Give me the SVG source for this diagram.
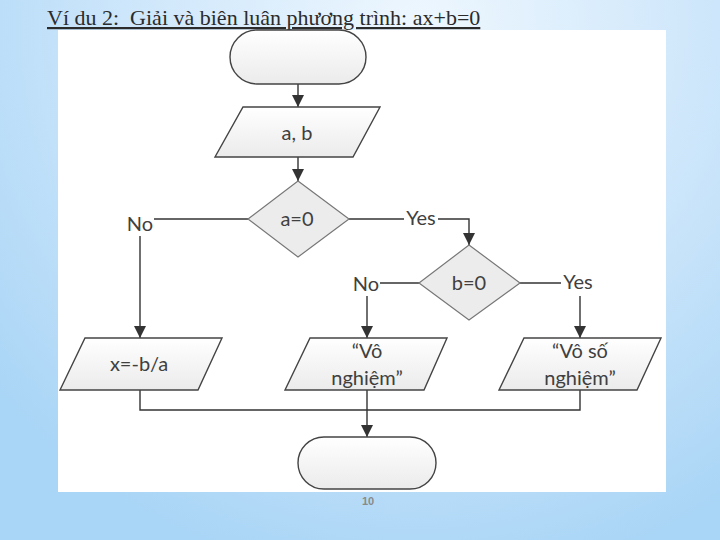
<svg xmlns="http://www.w3.org/2000/svg" width="720" height="540" viewBox="0 0 720 540">
  <defs>
    <radialGradient id="bg" cx="420" cy="30" r="560" gradientUnits="userSpaceOnUse">
      <stop offset="0" stop-color="#eef7fe"/>
      <stop offset="0.5" stop-color="#cfe7fb"/>
      <stop offset="1" stop-color="#a9d5f6"/>
    </radialGradient>
    <linearGradient id="shade" x1="0" y1="0" x2="0" y2="1">
      <stop offset="0" stop-color="#ffffff"/>
      <stop offset="1" stop-color="#ebebeb"/>
    </linearGradient>
    <marker id="arr" markerUnits="userSpaceOnUse" markerWidth="12" markerHeight="12" viewBox="0 0 12 12" refX="12" refY="6" orient="auto">
      <path d="M0,0 L12,6 L0,12 z" fill="#333"/>
    </marker>
    <style>
      .shape { fill: url(#shade); stroke: #444; stroke-width: 1.4; }
      .dia { fill: #ececec; stroke: #777; stroke-width: 1.2; }
      .lbl { font-family: Lato, "Open Sans", "Liberation Sans", sans-serif; font-size: 20px; fill: #404040; text-anchor: middle; }
      .con { fill: none; stroke: #333; stroke-width: 1.4; }
    </style>
  </defs>

  <rect x="0" y="0" width="720" height="540" fill="url(#bg)"/>
  <rect x="58" y="30" width="608" height="462" fill="#ffffff"/>

  <text x="47" y="25" font-family="'Liberation Serif', 'DejaVu Serif', serif" font-size="22" fill="#2b2b2b" text-decoration="underline" style="white-space:pre">Ví du 2:  Giải và biên luân phương trình: ax+b=0</text>

  <g id="connectors">
    <path class="con" d="M298,84 V107" marker-end="url(#arr)"/>
    <path class="con" d="M298,157 V181" marker-end="url(#arr)"/>
    <path class="con" d="M248,219 H154"/>
    <path class="con" d="M140,236 V338" marker-end="url(#arr)"/>
    <path class="con" d="M349,219 H404"/>
    <path class="con" d="M438,219 H469 V245" marker-end="url(#arr)"/>
    <path class="con" d="M419,283 H380"/>
    <path class="con" d="M367,296 V338" marker-end="url(#arr)"/>
    <path class="con" d="M520,283 H561"/>
    <path class="con" d="M580,296 V338" marker-end="url(#arr)"/>
    <path class="con" d="M140,390 V410 H580 V390"/>
    <path class="con" d="M367,390 V437" marker-end="url(#arr)"/>
    <text class="lbl" x="140" y="231">No</text>
    <text class="lbl" x="421" y="225">Yes</text>
    <text class="lbl" x="366" y="291">No</text>
    <text class="lbl" x="578" y="289">Yes</text>
  </g>

  <g id="start">
    <rect class="shape" x="230" y="30" width="136" height="54" rx="27"/>
  </g>

  <g id="input">
    <polygon class="shape" points="243,107 380,107 353,157 215,157"/>
    <text class="lbl" x="297" y="140">a, b</text>
  </g>

  <g id="dec_a">
    <polygon class="dia" points="298,181 349,219 298,257 248,219"/>
    <text class="lbl" x="297" y="226">a=0</text>
  </g>

  <g id="dec_b">
    <polygon class="dia" points="469,245 520,283 469,320 419,283"/>
    <text class="lbl" x="469" y="290">b=0</text>
  </g>

  <g id="out_x">
    <polygon class="shape" points="85,338 222,338 198,390 60,390"/>
    <text class="lbl" x="139" y="371">x=-b/a</text>
  </g>

  <g id="out_none">
    <polygon class="shape" points="310,338 447,338 424,390 285,390"/>
    <text class="lbl" x="367" y="358">“Vô</text>
    <text class="lbl" x="367" y="385">nghiệm”</text>
  </g>

  <g id="out_inf">
    <polygon class="shape" points="524,338 661,338 637,390 499,390"/>
    <text class="lbl" x="580" y="358">“Vô số</text>
    <text class="lbl" x="580" y="385">nghiệm”</text>
  </g>

  <g id="end">
    <rect class="shape" x="298" y="437" width="138" height="52" rx="26"/>
  </g>

  <text x="368" y="505" font-family="'Liberation Sans', Arial, sans-serif" font-size="11" font-weight="bold" fill="#8a8a8a" text-anchor="middle">10</text>
</svg>
